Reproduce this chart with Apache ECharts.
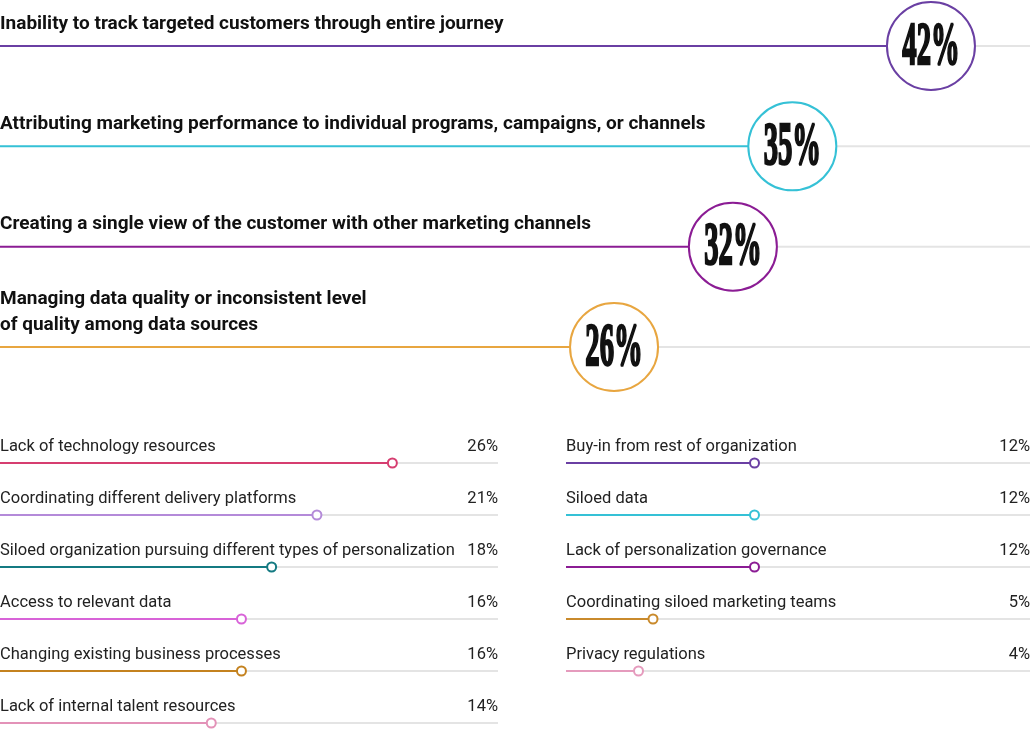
<!DOCTYPE html>
<html>
<head>
<meta charset="utf-8">
<script src="https://cdn.jsdelivr.net/npm/echarts@6/dist/echarts.min.js"></script>
<style>
  html, body { margin: 0; padding: 0; background: #fff; }
  #chart { width: 1030px; height: 730px; }
</style>
</head>
<body>
<div id="chart"></div>
<script>
// top: main challenges
const topLabels = [
  'Inability to track targeted customers through entire journey',
  'Attributing marketing performance to individual programs, campaigns, or channels',
  'Creating a single view of the customer with other marketing channels',
  'Managing data quality or inconsistent level\nof quality among data sources'
]
const topValues = [42, 35, 32, 26]
const topColors = ['#6a3fa3', '#35c1d6', '#8b1c94', '#e8a640']

// bottom left column
const leftLabels = [
  'Lack of technology resources',
  'Coordinating different delivery platforms',
  'Siloed organization pursuing different types of personalization',
  'Access to relevant data',
  'Changing existing business processes',
  'Lack of internal talent resources'
]
const leftValues = [26, 21, 18, 16, 16, 14]
const leftColors = ['#d63d70', '#b48ad9', '#147a82', '#d863d8', '#c4821f', '#e392b8']

// bottom right column
const rightLabels = [
  'Buy-in from rest of organization',
  'Siloed data',
  'Lack of personalization governance',
  'Coordinating siloed marketing teams',
  'Privacy regulations'
]
const rightValues = [12, 12, 12, 5, 4]
const rightColors = ['#6a3fa3', '#35c1d6', '#8b1c94', '#c98a2c', '#e59bbd']

const GREY = '#e4e4e4'

function topItem(colors, labels) {
  return function (params, api) {
    const i = api.value(1)
    const v = api.value(0)
    const cs = params.coordSys
    const p = api.coord([v, i])
    const c = colors[i]
    return {
      type: 'group',
      children: [
        { type: 'line', shape: { x1: p[0], y1: p[1], x2: cs.x + cs.width, y2: p[1] }, style: { stroke: GREY, lineWidth: 2 } },
        { type: 'line', shape: { x1: cs.x, y1: p[1], x2: p[0], y2: p[1] }, style: { stroke: c, lineWidth: 2 } },
        { type: 'circle', shape: { cx: p[0], cy: p[1], r: 44 }, style: { fill: '#fff', stroke: c, lineWidth: 2 } },
        {
          type: 'text', x: p[0], y: p[1] + 2, scaleX: 0.47,
          style: {
            text: v + '%', x: 0, y: 0, textAlign: 'center', textVerticalAlign: 'middle',
            align: 'center', verticalAlign: 'middle',
            font: 'bold 61px "Liberation Sans Narrow"', fill: '#111', stroke: '#111', lineWidth: 2.6
          }
        },
        {
          type: 'text', x: cs.x, y: p[1] - 9,
          style: {
            text: labels[i], textAlign: 'left', textVerticalAlign: 'bottom',
            align: 'left', verticalAlign: 'bottom', lineHeight: 26,
            font: 'bold 19px Roboto', fill: '#111'
          }
        }
      ]
    }
  }
}

function listItem(colors, labels) {
  return function (params, api) {
    const i = api.value(1)
    const v = api.value(0)
    const cs = params.coordSys
    const p = api.coord([v, i])
    const c = colors[i]
    const right = cs.x + cs.width
    return {
      type: 'group',
      children: [
        { type: 'line', shape: { x1: p[0], y1: p[1], x2: right, y2: p[1] }, style: { stroke: GREY, lineWidth: 2 } },
        { type: 'line', shape: { x1: cs.x, y1: p[1], x2: p[0], y2: p[1] }, style: { stroke: c, lineWidth: 2 } },
        { type: 'circle', shape: { cx: p[0], cy: p[1], r: 4.5 }, style: { fill: '#fff', stroke: c, lineWidth: 2 } },
        {
          type: 'text', x: cs.x, y: p[1] - 8,
          style: {
            text: labels[i], textAlign: 'left', textVerticalAlign: 'bottom',
            align: 'left', verticalAlign: 'bottom',
            font: '16.5px Roboto', fill: '#222'
          }
        },
        {
          type: 'text', x: right, y: p[1] - 8,
          style: {
            text: v + '%', textAlign: 'right', textVerticalAlign: 'bottom',
            align: 'right', verticalAlign: 'bottom',
            font: '16.5px Roboto', fill: '#222'
          }
        }
      ]
    }
  }
}

const chart = echarts.init(document.getElementById('chart'))

const hiddenX = (min, max, gridIndex) => ({ type: 'value', min, max, gridIndex, show: false })
const hiddenY = (data, gridIndex) => ({ type: 'category', data, gridIndex, inverse: true, boundaryGap: false, show: false })

chart.setOption({
  animation: false,
  backgroundColor: '#fff',
  grid: [
    { left: 0, top: 46, width: 1030, height: 301 },
    { left: 0, top: 463, width: 498, height: 260 },
    { left: 566, top: 463, width: 464, height: 208 }
  ],
  xAxis: [hiddenX(-5, 47, 0), hiddenX(0, 33, 1), hiddenX(-1, 31, 2)],
  yAxis: [hiddenY(topLabels, 0), hiddenY(leftLabels, 1), hiddenY(rightLabels, 2)],
  series: [
    {
      type: 'custom', xAxisIndex: 0, yAxisIndex: 0, clip: false,
      renderItem: topItem(topColors, topLabels),
      encode: { x: 0, y: 1 },
      data: topValues.map((v, i) => [v, i])
    },
    {
      type: 'custom', xAxisIndex: 1, yAxisIndex: 1, clip: false,
      renderItem: listItem(leftColors, leftLabels),
      encode: { x: 0, y: 1 },
      data: leftValues.map((v, i) => [v, i])
    },
    {
      type: 'custom', xAxisIndex: 2, yAxisIndex: 2, clip: false,
      renderItem: listItem(rightColors, rightLabels),
      encode: { x: 0, y: 1 },
      data: rightValues.map((v, i) => [v, i])
    }
  ]
})
</script>
</body>
</html>
